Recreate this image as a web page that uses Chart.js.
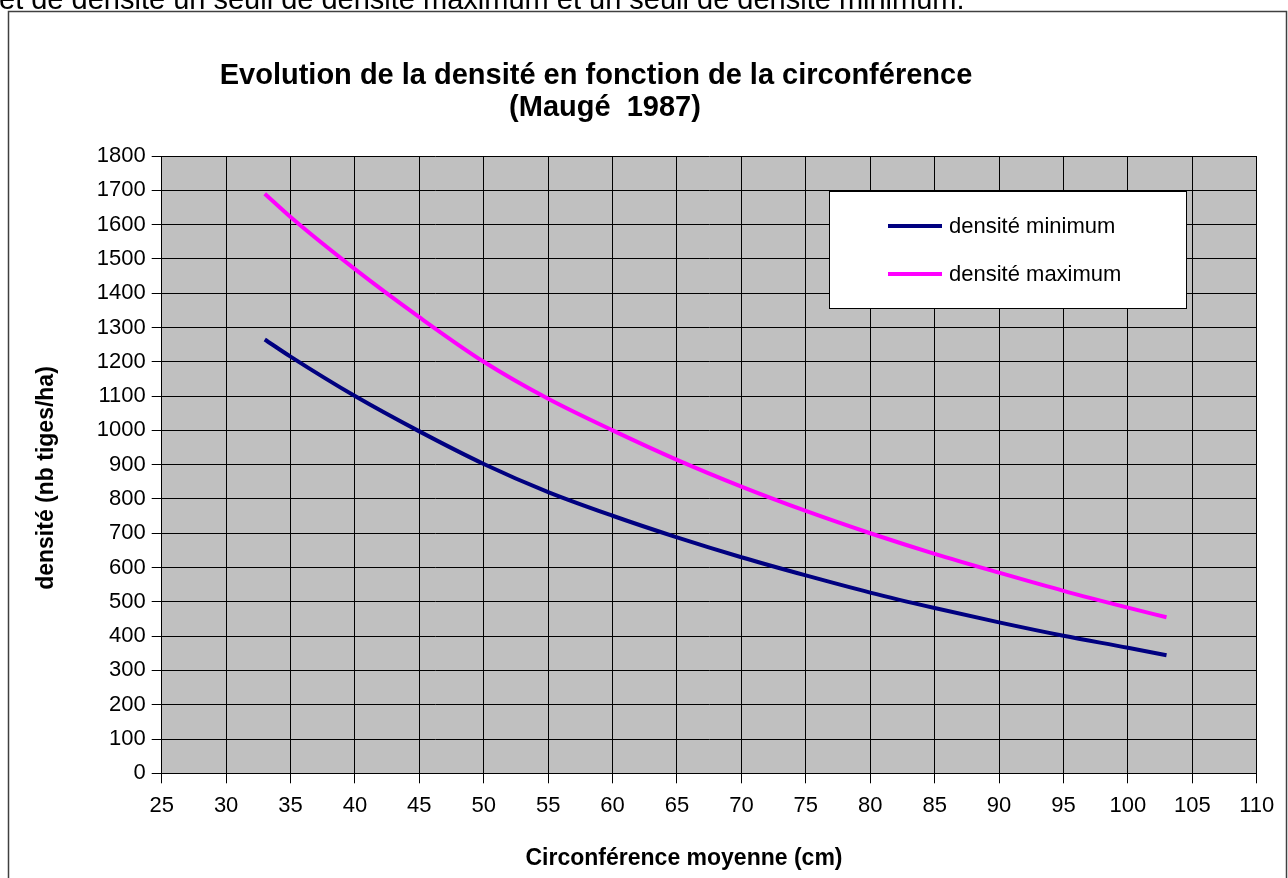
<!DOCTYPE html>
<html><head><meta charset="utf-8">
<script src="https://cdn.jsdelivr.net/npm/chart.js@4.4.0/dist/chart.umd.min.js"></script>
<style>
html,body{margin:0;padding:0;background:#fff;overflow:hidden;width:1288px;height:878px}
#wrap{position:absolute;left:0;top:0;width:1288px;height:878px;z-index:1}
#top{position:absolute;left:-1px;top:-15px;font:29px "Liberation Sans",Arial,sans-serif;white-space:nowrap;color:#000;line-height:28px;z-index:2}
</style></head><body>
<div id="top">et de densité un seuil de densité maximum et un seuil de densité minimum.</div>
<div id="wrap"><canvas id="c" width="1288" height="878"></canvas></div>
<script>
// ---- data ----
const circumference = [33, 35, 40, 45, 50, 55, 60, 65, 70, 75, 80, 85, 90, 95, 100, 103];
const densiteMin   = [1265, 1215, 1100, 997, 902, 820, 751, 688, 630, 577, 527, 482, 440, 401, 366, 344];
const densiteMax   = [1690, 1622, 1470, 1330, 1200, 1092, 1000, 914, 836, 765, 700, 640, 585, 532, 483, 455];
const xTickValues  = [25, 30, 35, 40, 45, 50, 55, 60, 65, 70, 75, 80, 85, 90, 95, 100, 105, 110];
const yTickValues  = [0, 100, 200, 300, 400, 500, 600, 700, 800, 900, 1000, 1100, 1200, 1300, 1400, 1500, 1600, 1700, 1800];
const seriesLabels = ['densité minimum', 'densité maximum'];
const seriesColors = ['#000080', '#FF00FF'];
const titleLines   = ['Evolution de la densité en fonction de la circonférence', '(Maugé  1987)'];
const xTitle = 'Circonférence moyenne (cm)';
const yTitle = 'densité (nb tiges/ha)';

const FONT = '"Liberation Sans", Arial, sans-serif';

const pts = (xs, ys) => xs.map((x, i) => ({x, y: ys[i]}));

const decor = {
  id: 'decor',
  beforeDraw(chart) {
    const ctx = chart.ctx, a = chart.chartArea;
    ctx.save();
    ctx.strokeStyle = '#404040';
    ctx.lineWidth = 1.5;
    ctx.strokeRect(8.5, 11.5, 1278, 900);
    ctx.fillStyle = '#C0C0C0';
    ctx.fillRect(a.left, a.top, a.right - a.left, a.bottom - a.top);
    ctx.restore();
  },
  afterDraw(chart) {
    const ctx = chart.ctx;
    ctx.save();
    ctx.fillStyle = '#000';
    ctx.textAlign = 'center';
    ctx.textBaseline = 'middle';
    // title
    ctx.font = 'bold 29px ' + FONT;
    ctx.fillText(titleLines[0], 596, 76);
    ctx.fillText(titleLines[1], 605, 108);
    // axis titles
    ctx.font = 'bold 23px ' + FONT;
    ctx.fillText(xTitle, 684, 859);
    ctx.save();
    ctx.translate(47, 478);
    ctx.rotate(-Math.PI / 2);
    ctx.fillText(yTitle, 0, 0);
    ctx.restore();
    // legend
    const lx = 829.5, ly = 191.5, lw = 357, lh = 117;
    ctx.fillStyle = '#fff';
    ctx.fillRect(lx, ly, lw, lh);
    ctx.strokeStyle = '#000';
    ctx.lineWidth = 1;
    ctx.strokeRect(lx, ly, lw, lh);
    ctx.font = '22px ' + FONT;
    ctx.textAlign = 'left';
    chart.data.datasets.forEach((ds, i) => {
      const yy = 226 + i * 48;
      ctx.strokeStyle = ds.borderColor;
      ctx.lineWidth = 4;
      ctx.beginPath();
      ctx.moveTo(888, yy);
      ctx.lineTo(942, yy);
      ctx.stroke();
      ctx.fillStyle = '#000';
      ctx.fillText(ds.label, 949, yy + 1);
    });
    ctx.restore();
  }
};

new Chart(document.getElementById('c'), {
  type: 'line',
  data: {
    datasets: [
      {label: seriesLabels[0], data: pts(circumference, densiteMin), borderColor: seriesColors[0], borderWidth: 4, pointRadius: 0, cubicInterpolationMode: 'monotone', fill: false},
      {label: seriesLabels[1], data: pts(circumference, densiteMax), borderColor: seriesColors[1], borderWidth: 4, pointRadius: 0, cubicInterpolationMode: 'monotone', fill: false}
    ]
  },
  options: {
    responsive: false,
    animation: false,
    devicePixelRatio: 1,
    layout: {padding: {left: 10, top: 156, right: 31.3, bottom: 0}},
    plugins: {legend: {display: false}, title: {display: false}, tooltip: {enabled: false}},
    scales: {
      x: {
        type: 'linear', min: 25, max: 110,
        afterBuildTicks: s => { s.ticks = xTickValues.map(v => ({value: v})); },
        afterFit: s => { s.height = 104.7; },
        ticks: {color: '#000', font: {family: FONT, size: 22}, padding: 9, autoSkip: false, maxRotation: 0, callback: v => String(v)},
        grid: {color: '#000', lineWidth: 1, tickLength: 10},
        border: {color: '#000', width: 1}
      },
      y: {
        type: 'linear', min: 0, max: 1800,
        afterBuildTicks: s => { s.ticks = yTickValues.map(v => ({value: v})); },
        afterFit: s => { s.width = 151.7; },
        ticks: {color: '#000', font: {family: FONT, size: 22}, padding: 6, autoSkip: false, callback: v => String(v)},
        grid: {color: '#000', lineWidth: 1, tickLength: 10},
        border: {color: '#000', width: 1}
      }
    }
  },
  plugins: [decor]
});
</script>
</body></html>
